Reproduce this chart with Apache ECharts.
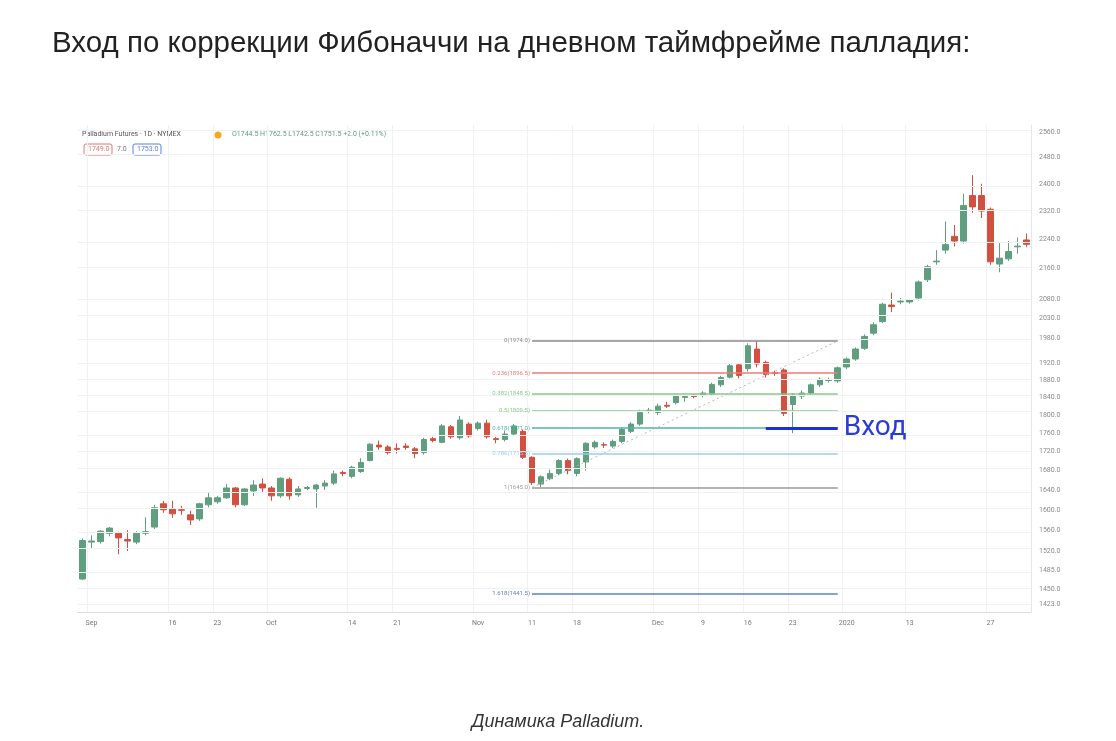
<!DOCTYPE html>
<html>
<head>
<meta charset="utf-8">
<script src="https://cdn.jsdelivr.net/npm/echarts@6/dist/echarts.min.js"></script>
<style>
  html, body { margin: 0; padding: 0; background: #fff; }
  #main { width: 1116px; height: 741px; }
</style>
</head>
<body>
<div id="main"></div>
<script>
// торговые дни
const dates = [
  '2019-08-30',
  '2019-09-03', '2019-09-04', '2019-09-05', '2019-09-06', '2019-09-09', '2019-09-10', '2019-09-11', '2019-09-12', '2019-09-13',
  '2019-09-16', '2019-09-17', '2019-09-18', '2019-09-19', '2019-09-20',
  '2019-09-23', '2019-09-24', '2019-09-25', '2019-09-26', '2019-09-27',
  '2019-09-30', '2019-10-01', '2019-10-02', '2019-10-03', '2019-10-04',
  '2019-10-07', '2019-10-08', '2019-10-09', '2019-10-10', '2019-10-11',
  '2019-10-14', '2019-10-15', '2019-10-16', '2019-10-17', '2019-10-18',
  '2019-10-21', '2019-10-22', '2019-10-23', '2019-10-24', '2019-10-25',
  '2019-10-28', '2019-10-29', '2019-10-30', '2019-10-31', '2019-11-01',
  '2019-11-04', '2019-11-05', '2019-11-06', '2019-11-07', '2019-11-08',
  '2019-11-11', '2019-11-12', '2019-11-13', '2019-11-14', '2019-11-15',
  '2019-11-18', '2019-11-19', '2019-11-20', '2019-11-21', '2019-11-22',
  '2019-11-25', '2019-11-26', '2019-11-27', '2019-11-29',
  '2019-12-02', '2019-12-03', '2019-12-04', '2019-12-05', '2019-12-06',
  '2019-12-09', '2019-12-10', '2019-12-11', '2019-12-12', '2019-12-13',
  '2019-12-16', '2019-12-17', '2019-12-18', '2019-12-19', '2019-12-20',
  '2019-12-23', '2019-12-24', '2019-12-26', '2019-12-27', '2019-12-30', '2019-12-31',
  '2020-01-02', '2020-01-03', '2020-01-06', '2020-01-07', '2020-01-08', '2020-01-09', '2020-01-10',
  '2020-01-13', '2020-01-14', '2020-01-15', '2020-01-16', '2020-01-17',
  '2020-01-21', '2020-01-22', '2020-01-23', '2020-01-24',
  '2020-01-27', '2020-01-28', '2020-01-29', '2020-01-30', '2020-01-31'
];

// [open, close, low, high]
const ohlc = [
  [1468, 1540, 1466, 1544], [1537, 1539, 1524, 1550], [1538, 1558, 1534, 1560], [1554, 1564, 1548, 1566],
  [1554, 1545, 1514, 1557], [1542, 1539, 1520, 1560], [1537, 1554, 1533, 1558], [1554, 1557, 1550, 1585],
  [1566, 1604, 1562, 1610], [1612, 1600, 1594, 1618], [1602, 1592, 1584, 1618], [1600, 1599, 1590, 1608],
  [1590, 1580, 1570, 1598], [1582, 1612, 1578, 1614], [1610, 1624, 1605, 1634], [1616, 1624, 1612, 1628],
  [1624, 1644, 1622, 1652], [1644, 1610, 1605, 1646], [1610, 1642, 1608, 1644], [1638, 1650, 1628, 1660],
  [1652, 1644, 1635, 1664], [1644, 1628, 1618, 1648], [1628, 1664, 1624, 1666], [1662, 1628, 1620, 1666],
  [1630, 1642, 1626, 1648], [1643, 1645, 1640, 1648], [1642, 1650, 1604, 1652], [1648, 1654, 1640, 1660],
  [1654, 1673, 1650, 1680], [1676, 1674, 1668, 1680], [1668, 1687, 1664, 1690], [1678, 1697, 1675, 1706],
  [1701, 1736, 1699, 1738], [1734, 1730, 1724, 1744], [1730, 1718, 1714, 1734], [1727, 1725, 1716, 1738],
  [1732, 1729, 1724, 1738], [1726, 1716, 1706, 1730], [1718, 1746, 1714, 1750], [1748, 1744, 1740, 1752],
  [1740, 1776, 1738, 1780], [1774, 1752, 1748, 1778], [1750, 1789, 1746, 1798], [1780, 1754, 1750, 1784],
  [1770, 1782, 1766, 1786], [1782, 1752, 1748, 1790], [1748, 1746, 1738, 1752], [1746, 1758, 1742, 1766],
  [1758, 1776, 1754, 1780], [1764, 1708, 1704, 1768], [1708, 1655, 1650, 1710], [1652, 1667, 1646, 1670],
  [1663, 1674, 1660, 1682], [1674, 1701, 1670, 1704], [1701, 1680, 1672, 1705], [1674, 1705, 1668, 1708],
  [1698, 1738, 1680, 1740], [1730, 1740, 1726, 1744], [1735, 1734, 1728, 1740], [1732, 1742, 1728, 1746],
  [1742, 1768, 1738, 1772], [1764, 1780, 1760, 1784], [1780, 1806, 1776, 1812], [1809, 1811, 1804, 1816],
  [1806, 1820, 1800, 1826], [1822, 1820, 1816, 1830], [1828, 1843, 1824, 1846], [1840, 1842, 1830, 1846],
  [1845, 1842, 1838, 1848], [1845, 1850, 1840, 1854], [1848, 1870, 1844, 1874], [1869, 1886, 1864, 1890],
  [1887, 1914, 1884, 1918], [1916, 1891, 1884, 1918], [1907, 1962, 1900, 1968], [1954, 1918, 1910, 1974],
  [1922, 1893, 1886, 1926], [1898, 1896, 1890, 1902], [1904, 1804, 1798, 1908], [1824, 1845, 1760, 1850],
  [1843, 1850, 1836, 1856], [1850, 1869, 1846, 1872], [1869, 1882, 1864, 1886], [1879, 1881, 1874, 1886],
  [1878, 1909, 1874, 1912], [1911, 1930, 1906, 1934], [1930, 1954, 1926, 1958], [1956, 1985, 1952, 1990],
  [1993, 2014, 1988, 2020], [2022, 2066, 2018, 2070], [2064, 2060, 2046, 2096], [2072, 2074, 2066, 2082],
  [2072, 2077, 2068, 2080], [2082, 2124, 2076, 2128], [2130, 2165, 2124, 2170], [2178, 2180, 2170, 2210],
  [2210, 2225, 2200, 2290], [2248, 2235, 2220, 2280], [2235, 2336, 2228, 2370], [2365, 2332, 2315, 2426],
  [2365, 2320, 2300, 2400], [2325, 2178, 2170, 2330], [2172, 2188, 2150, 2232], [2186, 2206, 2180, 2235],
  [2219, 2221, 2200, 2245], [2238, 2226, 2218, 2256]
];

const priceTicks = [1423, 1450, 1485, 1520, 1560, 1600, 1640, 1680, 1720, 1760, 1800, 1840, 1880, 1920,
  1980, 2030, 2080, 2160, 2240, 2320, 2400, 2480, 2560];

const dateLabels = {
  '2019-09-03': 'Sep', '2019-09-16': '16', '2019-09-23': '23', '2019-10-01': 'Oct',
  '2019-10-14': '14', '2019-10-21': '21', '2019-11-01': 'Nov', '2019-11-11': '11',
  '2019-11-18': '18', '2019-12-02': 'Dec', '2019-12-09': '9', '2019-12-16': '16',
  '2019-12-23': '23', '2020-01-02': '2020', '2020-01-13': '13', '2020-01-27': '27'
};

// уровни Фибоначчи
const fibRatios = ['0', '0.236', '0.382', '0.5', '0.618', '0.786', '1', '1.618'];
const fibPrices = [1974.0, 1896.5, 1848.5, 1809.5, 1771.0, 1715.5, 1645.0, 1441.5];
const fibColors = ['#8a8a8a', '#f07a74', '#8cc78c', '#8cc78c', '#4fb3a8', '#9ccbf0', '#9a9a9a', '#5b7fcf'];
const fibStart = '2019-11-11';
const fibEnd = '2019-12-31';
const entryStart = '2019-12-18';
const entryPrice = 1771.0;

const up = '#5f9e7f';
const down = '#d2503f';
const ln = Math.log;

const candleData = ohlc.map(r => r.map(v => ln(v)));

const fibLines = fibPrices.map((p, i) => [
  {
    coord: [fibStart, ln(p)],
    lineStyle: { color: fibColors[i], width: 1.5, type: 'solid' },
    label: {
      show: true, position: 'start', formatter: fibRatios[i] + '(' + p.toFixed(1) + ')',
      color: fibColors[i], fontSize: 6, fontFamily: 'Roboto', distance: 2
    }
  },
  { coord: [fibEnd, ln(p)] }
]);

const chart = echarts.init(document.getElementById('main'));
chart.setOption({
  animation: false,
  title: [
    {
      text: 'Вход по коррекции Фибоначчи на дневном таймфрейме палладия:',
      left: 47, top: 24,
      textStyle: { fontFamily: 'Liberation Sans', fontSize: 29.5, fontWeight: 'normal', color: '#222' }
    },
    {
      text: 'Динамика Palladium.',
      left: 'center', top: 708,
      textStyle: { fontFamily: 'Liberation Sans', fontSize: 18, fontStyle: 'italic', fontWeight: 'normal', color: '#333' }
    }
  ],
  grid: { left: 78, right: 85, top: 125, bottom: 129 },
  xAxis: {
    type: 'category',
    data: dates,
    boundaryGap: true,
    axisLine: { lineStyle: { color: '#ddd' } },
    axisTick: { show: false },
    axisLabel: {
      interval: (i, v) => v in dateLabels,
      formatter: v => dateLabels[v] || '',
      color: '#777', fontSize: 7, fontFamily: 'Roboto', margin: 8
    },
    splitLine: {
      show: true,
      interval: (i, v) => v in dateLabels,
      lineStyle: { color: '#f0f1f4' }
    }
  },
  yAxis: {
    type: 'value',
    position: 'right',
    min: ln(1409),
    max: ln(2582),
    axisLine: { show: true, lineStyle: { color: '#e6e6e6' } },
    axisTick: { show: false, customValues: priceTicks.map(ln) },
    axisLabel: {
      customValues: priceTicks.map(ln),
      formatter: v => Math.exp(v).toFixed(0) + '.0',
      color: '#888', fontSize: 7, fontFamily: 'Roboto', margin: 8
    },
    splitLine: { show: false }
  },
  series: [
    {
      type: 'candlestick',
      data: candleData,
      barWidth: '66%',
      itemStyle: { color: up, color0: down, borderColor: up, borderColor0: down, borderWidth: 1 },
      markLine: {
        silent: true,
        symbol: 'none',
        data: fibLines.concat([
          [
            { coord: [fibStart, ln(1645)], lineStyle: { color: '#b5b5b5', width: 1, type: [2, 3] }, label: { show: false } },
            { coord: [fibEnd, ln(1974)] }
          ],
          [
            {
              coord: [entryStart, ln(entryPrice)],
              lineStyle: { color: '#1f2fd8', width: 3, type: 'solid' },
              label: {
                show: true, position: 'end', formatter: 'Вход', color: '#2b3bd6',
                fontSize: 28, fontFamily: 'Roboto', distance: 6
              }
            },
            { coord: [fibEnd, ln(entryPrice)] }
          ]
        ])
      }
    },
    {
      // горизонтальная сетка по ценовым уровням
      type: 'line',
      data: [],
      markLine: {
        silent: true,
        symbol: 'none',
        label: { show: false },
        lineStyle: { color: '#f0f1f4', width: 1, type: 'solid' },
        data: priceTicks.map(p => ({ yAxis: ln(p) }))
      },
      z: 0
    }
  ],
  graphic: [
    { type: 'text', left: 82, top: 131, style: { text: 'Palladium Futures · 1D · NYMEX', fill: '#555', font: '7px Roboto' } },
    { type: 'circle', shape: { cx: 218, cy: 135, r: 3.5 }, style: { fill: '#f5a623' } },
    { type: 'text', left: 232, top: 131, style: { text: 'O1744.5 H1762.5 L1742.5 C1751.5 +2.0 (+0.11%)', fill: '#5a9a7a', font: '7px Roboto' } },
    { type: 'rect', shape: { x: 84, y: 144, width: 28, height: 11, r: 2 }, style: { fill: '#fff', stroke: '#e57373' } },
    { type: 'text', left: 88, top: 146, style: { text: '1749.0', fill: '#e57373', font: '7px Roboto' } },
    { type: 'text', left: 117, top: 146, style: { text: '7.0', fill: '#777', font: '7px Roboto' } },
    { type: 'rect', shape: { x: 133, y: 144, width: 28, height: 11, r: 2 }, style: { fill: '#fff', stroke: '#5b7fe0' } },
    { type: 'text', left: 137, top: 146, style: { text: '1753.0', fill: '#5b7fe0', font: '7px Roboto' } }
  ]
});
</script>
</body>
</html>
